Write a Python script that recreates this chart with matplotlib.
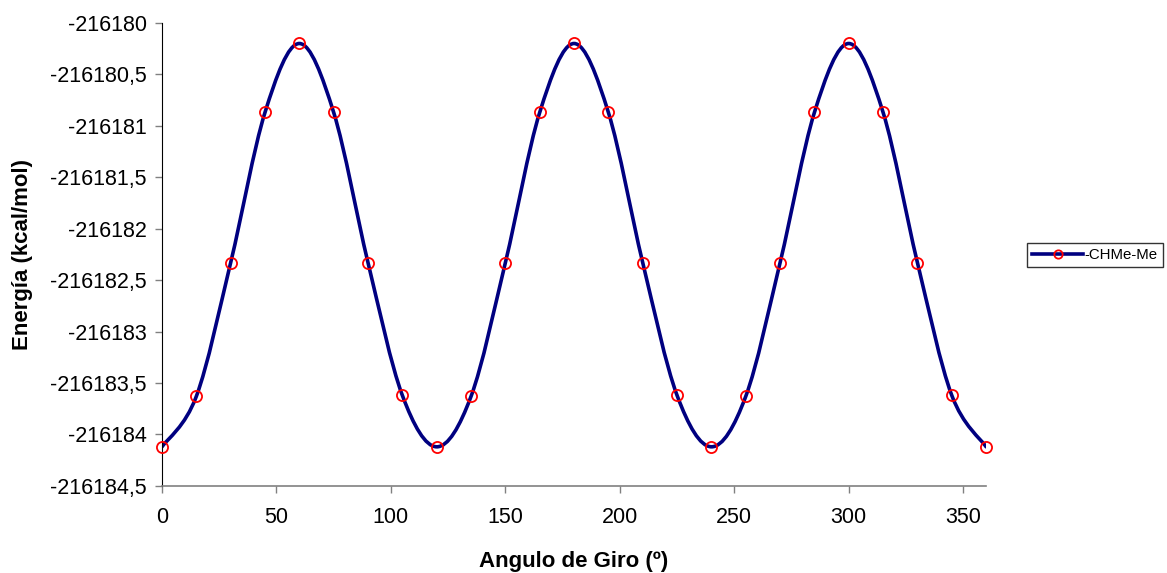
import matplotlib.pyplot as plt
from matplotlib.path import Path
from matplotlib.patches import PathPatch
from matplotlib.lines import Line2D
from matplotlib.ticker import FuncFormatter
import numpy as np

plt.rcParams['font.family'] = ['Liberation Sans', 'DejaVu Sans']

# data
angulo = [0, 15, 30, 45, 60, 75, 90, 105, 120, 135, 150, 165, 180,
          195, 210, 225, 240, 255, 270, 285, 300, 315, 330, 345, 360]
energia = [-216184.12, -216183.63, -216182.33, -216180.87, -216180.20,
           -216180.87, -216182.33, -216183.62, -216184.12, -216183.63,
           -216182.33, -216180.87, -216180.20, -216180.87, -216182.33,
           -216183.62, -216184.12, -216183.63, -216182.33, -216180.87,
           -216180.20, -216180.87, -216182.33, -216183.62, -216184.12]
serie = "-CHMe-Me"
xticks = [0, 50, 100, 150, 200, 250, 300, 350]
yticks = [-216184.5, -216184, -216183.5, -216183, -216182.5,
          -216182, -216181.5, -216181, -216180.5, -216180]


def coma(v, pos):
    # decimal comma, no trailing ,0
    s = '%.1f' % v
    if s.endswith('.0'):
        s = s[:-2]
    return s.replace('.', ',')


fig = plt.figure(figsize=(11.67, 5.73), dpi=100)
ax = fig.add_axes([0.1388, 0.152, 0.7062, 0.808])

# smoothed line like excel (bezier through the points)
x = np.array(angulo, dtype=float)
y = np.array(energia, dtype=float)
n = len(x)
verts = [(x[0], y[0])]
codes = [Path.MOVETO]
for i in range(n - 1):
    p0 = np.array([x[max(i - 1, 0)], y[max(i - 1, 0)]])
    p1 = np.array([x[i], y[i]])
    p2 = np.array([x[i + 1], y[i + 1]])
    p3 = np.array([x[min(i + 2, n - 1)], y[min(i + 2, n - 1)]])
    c1 = p1 + (p2 - p0) / 6.0
    c2 = p2 - (p3 - p1) / 6.0
    verts += [tuple(c1), tuple(c2), tuple(p2)]
    codes += [Path.CURVE4] * 3
curva = PathPatch(Path(verts, codes), facecolor='none', edgecolor='#000080',
                  linewidth=2.6, capstyle='round', joinstyle='round', zorder=2)
ax.add_patch(curva)

ax.plot(angulo, energia, linestyle='none', marker='o', markersize=8,
        markerfacecolor='none', markeredgecolor='#ff0000',
        markeredgewidth=1.3, zorder=3, clip_on=False)

ax.set_xlim(0, 360)
ax.set_ylim(-216184.5, -216180)
ax.set_xticks(xticks)
ax.set_yticks(yticks)
ax.yaxis.set_major_formatter(FuncFormatter(coma))
ax.tick_params(direction='out', length=5, width=1, labelsize=15.5, color='#808080')
ax.tick_params(axis='x', pad=10)
ax.tick_params(axis='y', pad=6)
ax.spines['top'].set_visible(False)
ax.spines['right'].set_visible(False)
ax.spines['left'].set_color('black')
ax.spines['bottom'].set_color('#808080')
ax.spines['bottom'].set_linewidth(1.2)

ax.set_xlabel("Angulo de Giro (º)", fontsize=16, fontweight='bold', labelpad=17)
ax.set_ylabel("Energía (kcal/mol)", fontsize=16, fontweight='bold')
ax.yaxis.set_label_coords(-0.1566, 0.5)

h = Line2D([], [], color='#000080', linewidth=2.6, marker='o', markersize=6,
           markerfacecolor='none', markeredgecolor='#ff0000', markeredgewidth=1.3)
leg = fig.legend([h], [serie], loc='center left', bbox_to_anchor=(0.880, 0.555),
                 fontsize=10.8, frameon=True, fancybox=False, handlelength=3.4,
                 borderpad=0.35, handletextpad=0.1, borderaxespad=0)
leg.get_frame().set_edgecolor('black')
leg.get_frame().set_linewidth(1)

plt.savefig("out.png", dpi=100)
